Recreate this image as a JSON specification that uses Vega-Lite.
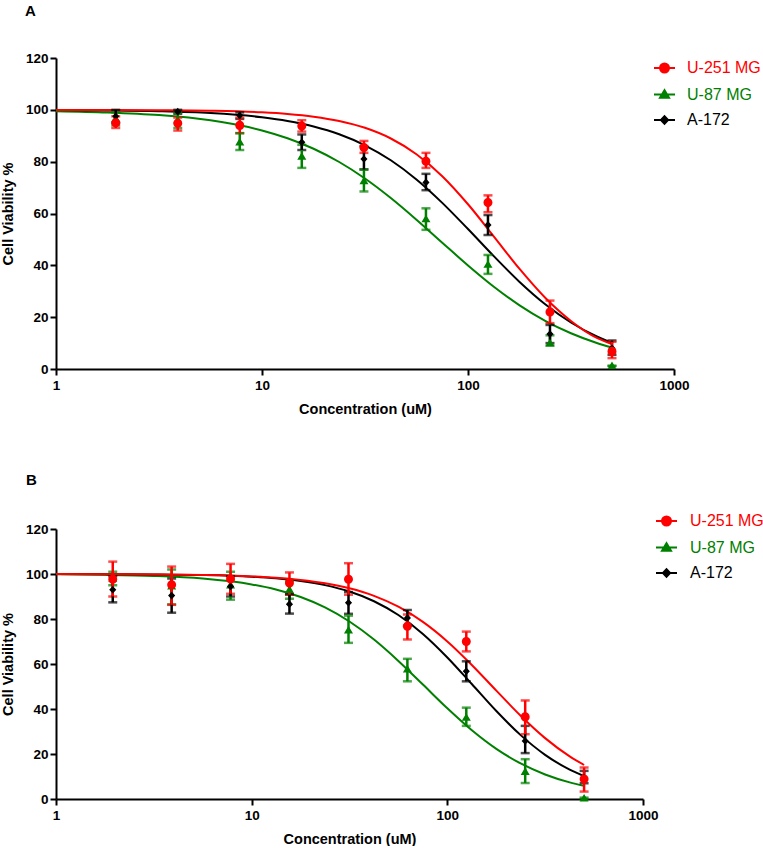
{
  "$schema": "https://vega.github.io/schema/vega-lite/v6.json",
  "padding": {"left": 0, "top": 4, "right": 0, "bottom": 0},
  "background": "white",
  "spacing": 56,
  "config": {
    "view": {"stroke": null},
    "axis": {
      "grid": false, "domainColor": "#000", "domainWidth": 2, "tickColor": "#000", "tickWidth": 2, "tickSize": 6,
      "labelFont": "Liberation Sans", "labelFontWeight": "bold", "labelFontSize": 13.5, "labelColor": "#000",
      "titleFont": "Liberation Sans", "titleFontWeight": "bold", "titleFontSize": 14.5, "titleColor": "#000"
    },
    "title": {"font": "Liberation Sans", "fontWeight": "bold", "fontSize": 15, "color": "#000"}
  },
  "datasets": {
    "ptsA": [
      {"conc": 1.95, "series": "U-87 MG", "v": 96.5, "lo": 94, "hi": 99},
      {"conc": 3.9, "series": "U-87 MG", "v": 96, "lo": 93, "hi": 99},
      {"conc": 7.8, "series": "U-87 MG", "v": 87.5, "lo": 84.5, "hi": 91},
      {"conc": 15.6, "series": "U-87 MG", "v": 82, "lo": 77.6, "hi": 86.5},
      {"conc": 31.25, "series": "U-87 MG", "v": 72.5, "lo": 68.5, "hi": 77},
      {"conc": 62.5, "series": "U-87 MG", "v": 57.8, "lo": 53.7, "hi": 62},
      {"conc": 125, "series": "U-87 MG", "v": 40.3, "lo": 36.7, "hi": 44},
      {"conc": 250, "series": "U-87 MG", "v": 10, "lo": 9, "hi": 13},
      {"conc": 500, "series": "U-87 MG", "v": 1.2, "lo": 1.2, "hi": 1.2},
      {"conc": 1.95, "series": "A-172", "v": 97.5, "lo": 95, "hi": 100},
      {"conc": 3.9, "series": "A-172", "v": 99.3, "lo": 98.5, "hi": 100},
      {"conc": 7.8, "series": "A-172", "v": 97.8, "lo": 96.5, "hi": 99},
      {"conc": 15.6, "series": "A-172", "v": 87.5, "lo": 84.5, "hi": 90.5},
      {"conc": 31.25, "series": "A-172", "v": 81, "lo": 77, "hi": 86},
      {"conc": 62.5, "series": "A-172", "v": 72, "lo": 69, "hi": 75.3},
      {"conc": 125, "series": "A-172", "v": 55.6, "lo": 51.7, "hi": 59.4},
      {"conc": 250, "series": "A-172", "v": 13.5, "lo": 10, "hi": 17},
      {"conc": 500, "series": "A-172", "v": 8, "lo": 5.5, "hi": 11},
      {"conc": 1.95, "series": "U-251 MG", "v": 95, "lo": 93, "hi": 97.5},
      {"conc": 3.9, "series": "U-251 MG", "v": 94.8, "lo": 92, "hi": 97},
      {"conc": 7.8, "series": "U-251 MG", "v": 94, "lo": 91, "hi": 97},
      {"conc": 15.6, "series": "U-251 MG", "v": 93.8, "lo": 91.6, "hi": 96},
      {"conc": 31.25, "series": "U-251 MG", "v": 85.5, "lo": 83.4, "hi": 88},
      {"conc": 62.5, "series": "U-251 MG", "v": 80.2, "lo": 77.6, "hi": 83.4},
      {"conc": 125, "series": "U-251 MG", "v": 64.2, "lo": 60.5, "hi": 67},
      {"conc": 250, "series": "U-251 MG", "v": 22, "lo": 17.7, "hi": 26.4},
      {"conc": 500, "series": "U-251 MG", "v": 6.8, "lo": 4.2, "hi": 10.5}
    ],
    "fitA": [
      {"conc": 1, "series": "U-87 MG", "v": 99.5}, {"conc": 1.78, "series": "U-87 MG", "v": 98.99}, {"conc": 3.16, "series": "U-87 MG", "v": 97.97}, {"conc": 5.62, "series": "U-87 MG", "v": 95.94}, {"conc": 10, "series": "U-87 MG", "v": 92.04}, {"conc": 13.3, "series": "U-87 MG", "v": 89.03}, {"conc": 17.8, "series": "U-87 MG", "v": 84.98}, {"conc": 23.7, "series": "U-87 MG", "v": 79.87}, {"conc": 31.6, "series": "U-87 MG", "v": 73.52}, {"conc": 42.2, "series": "U-87 MG", "v": 65.98}, {"conc": 56.2, "series": "U-87 MG", "v": 57.62}, {"conc": 75, "series": "U-87 MG", "v": 48.74}, {"conc": 100, "series": "U-87 MG", "v": 39.96}, {"conc": 133, "series": "U-87 MG", "v": 31.85}, {"conc": 178, "series": "U-87 MG", "v": 24.56}, {"conc": 237, "series": "U-87 MG", "v": 18.58}, {"conc": 316, "series": "U-87 MG", "v": 13.78}, {"conc": 422, "series": "U-87 MG", "v": 10.04}, {"conc": 500, "series": "U-87 MG", "v": 8.29},
      {"conc": 1, "series": "A-172", "v": 99.9}, {"conc": 1.78, "series": "A-172", "v": 99.76}, {"conc": 3.16, "series": "A-172", "v": 99.45}, {"conc": 5.62, "series": "A-172", "v": 98.74}, {"conc": 10, "series": "A-172", "v": 97.13}, {"conc": 13.3, "series": "A-172", "v": 95.71}, {"conc": 17.8, "series": "A-172", "v": 93.58}, {"conc": 23.7, "series": "A-172", "v": 90.57}, {"conc": 31.6, "series": "A-172", "v": 86.32}, {"conc": 42.2, "series": "A-172", "v": 80.54}, {"conc": 56.2, "series": "A-172", "v": 73.14}, {"conc": 75, "series": "A-172", "v": 64.11}, {"conc": 100, "series": "A-172", "v": 54.0}, {"conc": 133, "series": "A-172", "v": 43.64}, {"conc": 178, "series": "A-172", "v": 33.59}, {"conc": 237, "series": "A-172", "v": 24.98}, {"conc": 316, "series": "A-172", "v": 17.95}, {"conc": 422, "series": "A-172", "v": 12.55}, {"conc": 500, "series": "A-172", "v": 10.07},
      {"conc": 1, "series": "U-251 MG", "v": 99.98}, {"conc": 1.78, "series": "U-251 MG", "v": 99.95}, {"conc": 3.16, "series": "U-251 MG", "v": 99.87}, {"conc": 5.62, "series": "U-251 MG", "v": 99.65}, {"conc": 10, "series": "U-251 MG", "v": 99.04}, {"conc": 13.3, "series": "U-251 MG", "v": 98.41}, {"conc": 17.8, "series": "U-251 MG", "v": 97.37}, {"conc": 23.7, "series": "U-251 MG", "v": 95.71}, {"conc": 31.6, "series": "U-251 MG", "v": 93.06}, {"conc": 42.2, "series": "U-251 MG", "v": 88.94}, {"conc": 56.2, "series": "U-251 MG", "v": 82.88}, {"conc": 75, "series": "U-251 MG", "v": 74.4}, {"conc": 100, "series": "U-251 MG", "v": 63.57}, {"conc": 133, "series": "U-251 MG", "v": 51.3}, {"conc": 178, "series": "U-251 MG", "v": 38.6}, {"conc": 237, "series": "U-251 MG", "v": 27.5}, {"conc": 316, "series": "U-251 MG", "v": 18.55}, {"conc": 422, "series": "U-251 MG", "v": 12.0}, {"conc": 500, "series": "U-251 MG", "v": 9.6}
    ],
    "ptsB": [
      {"conc": 1.95, "series": "U-87 MG", "v": 98, "lo": 95, "hi": 101},
      {"conc": 3.9, "series": "U-87 MG", "v": 94.5, "lo": 86.5, "hi": 102},
      {"conc": 7.8, "series": "U-87 MG", "v": 95, "lo": 88.6, "hi": 101},
      {"conc": 15.6, "series": "U-87 MG", "v": 93, "lo": 89, "hi": 97},
      {"conc": 31.25, "series": "U-87 MG", "v": 75, "lo": 69.4, "hi": 81.5},
      {"conc": 62.5, "series": "U-87 MG", "v": 57.6, "lo": 52.3, "hi": 62.3},
      {"conc": 125, "series": "U-87 MG", "v": 36.2, "lo": 32.5, "hi": 40.6},
      {"conc": 250, "series": "U-87 MG", "v": 12.1, "lo": 7.1, "hi": 17.7},
      {"conc": 500, "series": "U-87 MG", "v": 0.3, "lo": 0, "hi": 0.6},
      {"conc": 1.95, "series": "A-172", "v": 93, "lo": 87.4, "hi": 99},
      {"conc": 3.9, "series": "A-172", "v": 90.4, "lo": 82.8, "hi": 98},
      {"conc": 7.8, "series": "A-172", "v": 94.5, "lo": 90, "hi": 99},
      {"conc": 15.6, "series": "A-172", "v": 86.6, "lo": 82.4, "hi": 91},
      {"conc": 31.25, "series": "A-172", "v": 87.2, "lo": 82.3, "hi": 92},
      {"conc": 62.5, "series": "A-172", "v": 80.5, "lo": 77, "hi": 84},
      {"conc": 125, "series": "A-172", "v": 56.8, "lo": 52.3, "hi": 61.2},
      {"conc": 250, "series": "A-172", "v": 25.8, "lo": 20.4, "hi": 32.5},
      {"conc": 500, "series": "A-172", "v": 9.5, "lo": 7, "hi": 12.5},
      {"conc": 1.95, "series": "U-251 MG", "v": 97.7, "lo": 90, "hi": 105.5},
      {"conc": 3.9, "series": "U-251 MG", "v": 95.2, "lo": 86.3, "hi": 103.3},
      {"conc": 7.8, "series": "U-251 MG", "v": 97.8, "lo": 91.2, "hi": 104.5},
      {"conc": 15.6, "series": "U-251 MG", "v": 96, "lo": 90.8, "hi": 100.7},
      {"conc": 31.25, "series": "U-251 MG", "v": 97.7, "lo": 90.8, "hi": 104.8},
      {"conc": 62.5, "series": "U-251 MG", "v": 76.8, "lo": 70.9, "hi": 82},
      {"conc": 125, "series": "U-251 MG", "v": 70, "lo": 65.6, "hi": 74.4},
      {"conc": 250, "series": "U-251 MG", "v": 36.5, "lo": 28.8, "hi": 43.8},
      {"conc": 500, "series": "U-251 MG", "v": 8.9, "lo": 3.3, "hi": 14}
    ],
    "fitB": [
      {"conc": 1, "series": "U-87 MG", "v": 99.84}, {"conc": 1.78, "series": "U-87 MG", "v": 99.63}, {"conc": 3.16, "series": "U-87 MG", "v": 99.13}, {"conc": 5.62, "series": "U-87 MG", "v": 97.98}, {"conc": 10, "series": "U-87 MG", "v": 95.38}, {"conc": 13.3, "series": "U-87 MG", "v": 93.11}, {"conc": 17.8, "series": "U-87 MG", "v": 89.76}, {"conc": 23.7, "series": "U-87 MG", "v": 85.15}, {"conc": 31.6, "series": "U-87 MG", "v": 78.89}, {"conc": 42.2, "series": "U-87 MG", "v": 70.87}, {"conc": 56.2, "series": "U-87 MG", "v": 61.38}, {"conc": 75, "series": "U-87 MG", "v": 50.87}, {"conc": 100, "series": "U-87 MG", "v": 40.32}, {"conc": 133, "series": "U-87 MG", "v": 30.67}, {"conc": 178, "series": "U-87 MG", "v": 22.29}, {"conc": 237, "series": "U-87 MG", "v": 15.79}, {"conc": 316, "series": "U-87 MG", "v": 10.9}, {"conc": 422, "series": "U-87 MG", "v": 7.38}, {"conc": 500, "series": "U-87 MG", "v": 5.83},
      {"conc": 1, "series": "A-172", "v": 99.97}, {"conc": 1.78, "series": "A-172", "v": 99.93}, {"conc": 3.16, "series": "A-172", "v": 99.83}, {"conc": 5.62, "series": "A-172", "v": 99.54}, {"conc": 10, "series": "A-172", "v": 98.8}, {"conc": 13.3, "series": "A-172", "v": 98.07}, {"conc": 17.8, "series": "A-172", "v": 96.88}, {"conc": 23.7, "series": "A-172", "v": 95.05}, {"conc": 31.6, "series": "A-172", "v": 92.2}, {"conc": 42.2, "series": "A-172", "v": 87.9}, {"conc": 56.2, "series": "A-172", "v": 81.76}, {"conc": 75, "series": "A-172", "v": 73.37}, {"conc": 100, "series": "A-172", "v": 62.92}, {"conc": 133, "series": "A-172", "v": 51.21}, {"conc": 178, "series": "A-172", "v": 39.1}, {"conc": 237, "series": "A-172", "v": 28.39}, {"conc": 316, "series": "A-172", "v": 19.63}, {"conc": 422, "series": "A-172", "v": 13.04}, {"conc": 500, "series": "A-172", "v": 10.13},
      {"conc": 1, "series": "U-251 MG", "v": 99.97}, {"conc": 1.78, "series": "U-251 MG", "v": 99.93}, {"conc": 3.16, "series": "U-251 MG", "v": 99.83}, {"conc": 5.62, "series": "U-251 MG", "v": 99.57}, {"conc": 10, "series": "U-251 MG", "v": 98.94}, {"conc": 13.3, "series": "U-251 MG", "v": 98.33}, {"conc": 17.8, "series": "U-251 MG", "v": 97.37}, {"conc": 23.7, "series": "U-251 MG", "v": 95.9}, {"conc": 31.6, "series": "U-251 MG", "v": 93.65}, {"conc": 42.2, "series": "U-251 MG", "v": 90.29}, {"conc": 56.2, "series": "U-251 MG", "v": 85.46}, {"conc": 75, "series": "U-251 MG", "v": 78.74}, {"conc": 100, "series": "U-251 MG", "v": 70.04}, {"conc": 133, "series": "U-251 MG", "v": 59.7}, {"conc": 178, "series": "U-251 MG", "v": 48.16}, {"conc": 237, "series": "U-251 MG", "v": 37.01}, {"conc": 316, "series": "U-251 MG", "v": 27.06}, {"conc": 422, "series": "U-251 MG", "v": 18.93}, {"conc": 500, "series": "U-251 MG", "v": 15.11}
    ]
  },
  "resolve": {
    "scale": {"x": "independent", "y": "independent", "color": "independent", "shape": "independent"},
    "legend": {"color": "independent"}
  },
  "vconcat": [
    {
      "width": 618, "height": 311,
      "title": {"text": "A", "anchor": "start", "frame": "group", "dx": -31, "offset": 32},
      "encoding": {
        "x": {"field": "conc", "type": "quantitative",
              "scale": {"type": "log", "domain": [1, 1000]},
              "axis": {"title": "Concentration (uM)", "values": [1, 10, 100, 1000], "format": "d", "labelPadding": 3, "titlePadding": 11, "labelFlush": false}},
        "y": {"field": "v", "type": "quantitative",
              "scale": {"domain": [0, 120]},
              "axis": {"title": "Cell Viability %", "values": [0, 20, 40, 60, 80, 100, 120], "labelPadding": 2, "titlePadding": 10}},
        "color": {"field": "series", "type": "nominal",
                  "scale": {"domain": ["U-251 MG", "U-87 MG", "A-172"], "range": ["#ff0000", "#008000", "#000000"]},
                  "legend": {
                    "title": null, "orient": "none", "legendX": 597, "legendY": -1.5,
                    "symbolSize": 441, "symbolStrokeWidth": 2, "symbolOpacity": 1, "labelFont": "Liberation Sans", "labelFontSize": 16,
                    "labelOffset": 11, "rowPadding": 5.5,
                    "labelColor": {"expr": "datum.value === 'U-251 MG' ? '#ff0000' : datum.value === 'U-87 MG' ? '#008000' : '#000000'"}
                  }}
      },
      "layer": [
        {"data": {"name": "fitA"}, "mark": {"type": "line", "interpolate": "monotone", "strokeWidth": 2}},
        {"data": {"name": "ptsA"}, "mark": {"type": "errorbar", "ticks": true, "thickness": 2.5, "size": 9},
         "encoding": {"y": {"field": "lo", "type": "quantitative"}, "y2": {"field": "hi"}}},
        {"data": {"name": "ptsA"}, "mark": {"type": "point", "filled": true, "opacity": 1, "size": 441},
         "encoding": {
           "shape": {"field": "series", "type": "nominal", "legend": null,
                     "scale": {"domain": ["U-251 MG", "U-87 MG", "A-172"], "range": ["M-1,0H1M0.43,0A0.43,0.43,0,1,1,-0.43,0A0.43,0.43,0,1,1,0.43,0Z", "M-1,0H1M-0.43,0.3L0.43,0.3L0,-0.42Z", "M-1,0H1M0,-0.36L0.34,0L0,0.36L-0.34,0Z"]}}
         }}
      ]
    },
    {
      "width": 587, "height": 270,
      "title": {"text": "B", "anchor": "start", "frame": "group", "dx": -30, "offset": 22},
      "encoding": {
        "x": {"field": "conc", "type": "quantitative",
              "scale": {"type": "log", "domain": [1, 1000]},
              "axis": {"title": "Concentration (uM)", "values": [1, 10, 100, 1000], "format": "d", "labelPadding": 3, "titlePadding": 11, "labelFlush": false}},
        "y": {"field": "v", "type": "quantitative",
              "scale": {"domain": [0, 120]},
              "axis": {"title": "Cell Viability %", "values": [0, 20, 40, 60, 80, 100, 120], "labelPadding": 2, "titlePadding": 10}},
        "color": {"field": "series", "type": "nominal",
                  "scale": {"domain": ["U-251 MG", "U-87 MG", "A-172"], "range": ["#ff0000", "#008000", "#000000"]},
                  "legend": {
                    "title": null, "orient": "none", "legendX": 599, "legendY": -19.5,
                    "symbolSize": 441, "symbolStrokeWidth": 2, "symbolOpacity": 1, "labelFont": "Liberation Sans", "labelFontSize": 16,
                    "labelOffset": 12, "rowPadding": 5.5,
                    "labelColor": {"expr": "datum.value === 'U-251 MG' ? '#ff0000' : datum.value === 'U-87 MG' ? '#008000' : '#000000'"}
                  }}
      },
      "layer": [
        {"data": {"name": "fitB"}, "mark": {"type": "line", "interpolate": "monotone", "strokeWidth": 2}},
        {"data": {"name": "ptsB"}, "mark": {"type": "errorbar", "ticks": true, "thickness": 2.5, "size": 9},
         "encoding": {"y": {"field": "lo", "type": "quantitative"}, "y2": {"field": "hi"}}},
        {"data": {"name": "ptsB"}, "mark": {"type": "point", "filled": true, "opacity": 1, "size": 441},
         "encoding": {
           "shape": {"field": "series", "type": "nominal", "legend": null,
                     "scale": {"domain": ["U-251 MG", "U-87 MG", "A-172"], "range": ["M-1,0H1M0.43,0A0.43,0.43,0,1,1,-0.43,0A0.43,0.43,0,1,1,0.43,0Z", "M-1,0H1M-0.43,0.3L0.43,0.3L0,-0.42Z", "M-1,0H1M0,-0.36L0.34,0L0,0.36L-0.34,0Z"]}}
         }}
      ]
    }
  ]
}
